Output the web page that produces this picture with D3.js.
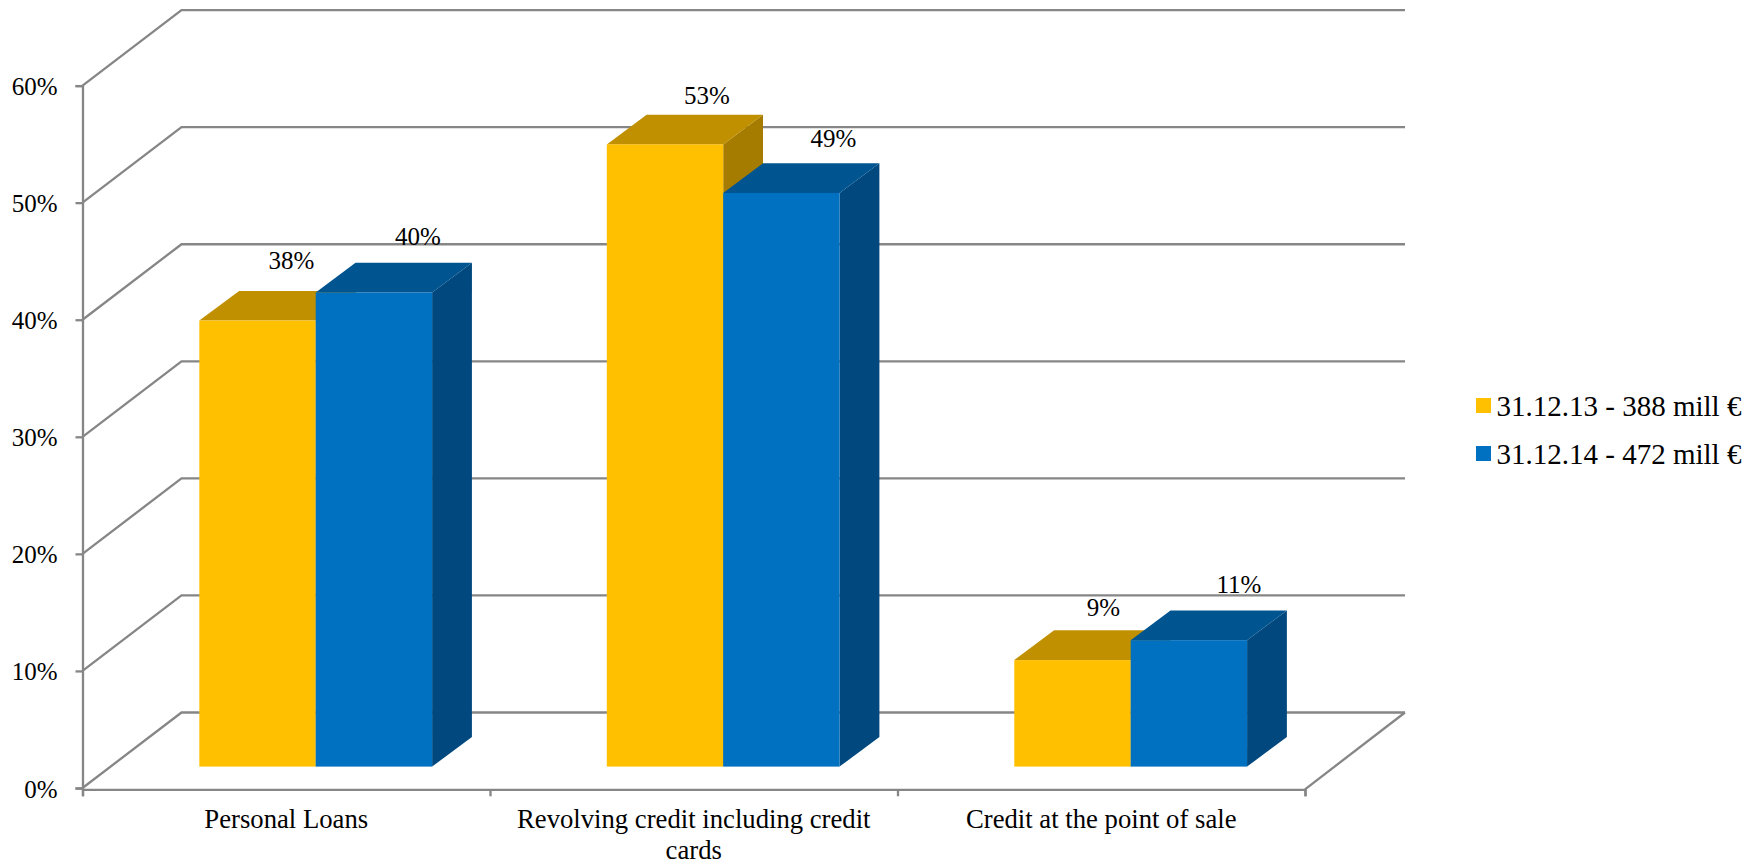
<!DOCTYPE html>
<html><head><meta charset="utf-8">
<script src="https://cdn.jsdelivr.net/npm/d3@7"></script>
<style>
html,body{margin:0;padding:0;background:#fff;overflow:hidden}
text{font-family:"Liberation Serif",serif;fill:#000}
</style></head><body>
<script>
const categories = ["Personal Loans", "Revolving credit including credit cards", "Credit at the point of sale"];
const categoryLines = [["Personal Loans"], ["Revolving credit including credit", "cards"], ["Credit at the point of sale"]];
const seriesNames = ["31.12.13 - 388 mill €", "31.12.14 - 472 mill €"];
const values2013 = [38.1, 53.15, 9.1];
const values2014 = [40.5, 49.0, 10.8];
const labels2013 = ["38%", "53%", "9%"];
const labels2014 = ["40%", "49%", "11%"];
const yTicks = [0, 10, 20, 30, 40, 50, 60];

const W = 1763, H = 864, FS = 25, CAT_FS = 26.7, LEG_FS = 29;
const axisColor = "#868686", LW = 2.3;
const front = ["#FFC000", "#0070C0"], topC = ["#C09000", "#005490"], sideC = ["#A67C00", "#00487D"];
// 3D projection constants
const wallDx = 99, wallDy = -75.5;     // front of floor to back wall
const barShift = 29.45, barOffY = -21.4; // band position to bar front plane
const barDx = 39.8, barDy = -29.7;     // depth of a bar
// hand-placed data-label nudges from the bar's front-top centre
const nudge2013 = [[34, -52], [42, -40], [31, -44]];
const nudge2014 = [[44, -47], [52, -46], [50, -47]];

const svg = d3.select("body").append("svg").attr("width", W).attr("height", H).style("display", "block");
const y = d3.scaleLinear().domain([0, 60]).range([788, 85.6]);
const xLeft = 82.5, xRight = 1305;
const x0 = d3.scaleBand().domain(categories).range([xLeft, xRight]).paddingInner(0.4287).paddingOuter(0.2144);
const x1 = d3.scaleBand().domain([0, 1]).range([0, x0.bandwidth()]);

// walls and floor grid
const grid = svg.append("g").attr("fill", "none").attr("stroke", axisColor).attr("stroke-width", LW);
grid.selectAll("path").data(yTicks).join("path")
  .attr("d", v => `M${xLeft},${y(v)}L${xLeft + wallDx},${y(v) + wallDy}L${xRight + wallDx + 1},${y(v) + wallDy}`);
grid.append("path").attr("d", `M${xRight + wallDx + 1},${y(0) + wallDy}L${xRight},${y(0) + 1.3}`);

// axes
const yAxis = d3.axisLeft(y).tickValues(yTicks).tickFormat(d => d + "%").tickSize(7).tickPadding(18);
const gy = svg.append("g").attr("transform", `translate(${xLeft},0)`).call(yAxis);
gy.selectAll("text").attr("font-size", FS).attr("dy", "0.36em");
const boundaries = d3.scalePoint().domain([0, 1, 2, 3]).range([xLeft, xRight]);
const xAxis = d3.axisBottom(boundaries).tickFormat("").tickSize(7);
const gx = svg.append("g").attr("transform", `translate(0,${y(0) + 1.3})`).call(xAxis);
[gy, gx].forEach(g => { g.selectAll("path,line").attr("stroke", axisColor).attr("stroke-width", LW); });

// bars
const series = [values2013, values2014];
const labels = [labels2013, labels2014];
const nudges = [nudge2013, nudge2014];
const baseY = y(0) + barOffY;
const barTop = v => baseY - (y(0) - y(v));
const poly = pts => "M" + pts.map(p => p.join(",")).join("L") + "Z";
categories.forEach((c, i) => {
  [0, 1].forEach(s => {
    const g = svg.append("g");
    const xa = x0(c) + x1(s) + barShift, w = x1.bandwidth();
    const t = barTop(series[s][i]);
    g.append("path").attr("fill", sideC[s]).attr("d", poly([[xa + w, t], [xa + w + barDx, t + barDy], [xa + w + barDx, baseY + barDy], [xa + w, baseY]]));
    g.append("path").attr("fill", topC[s]).attr("d", poly([[xa, t], [xa + barDx, t + barDy], [xa + w + barDx, t + barDy], [xa + w, t]]));
    g.append("rect").attr("fill", front[s]).attr("x", xa).attr("y", t).attr("width", w).attr("height", baseY - t);
  });
});
// data labels on top
categories.forEach((c, i) => {
  [0, 1].forEach(s => {
    const xa = x0(c) + x1(s) + barShift, w = x1.bandwidth();
    svg.append("text").attr("font-size", FS).attr("text-anchor", "middle")
      .attr("x", xa + w / 2 + nudges[s][i][0]).attr("y", barTop(series[s][i]) + nudges[s][i][1])
      .text(labels[s][i]);
  });
});

// category labels
categoryLines.forEach((lines, i) => {
  const cx = (boundaries(i) + boundaries(i + 1)) / 2;
  const tx = svg.append("text").attr("font-size", CAT_FS).attr("text-anchor", "middle");
  lines.forEach((l, k) => tx.append("tspan").attr("x", cx).attr("y", 828 + k * 30.5).text(l));
});

// legend
const legend = svg.append("g").selectAll("g").data(seriesNames).join("g")
  .attr("transform", (d, i) => `translate(1476,${398 + i * 48})`);
legend.append("rect").attr("width", 15).attr("height", 15).attr("fill", (d, i) => front[i]);
legend.append("text").attr("x", 20.5).attr("y", 18.2).attr("font-size", LEG_FS).text(d => d);
</script>
</body></html>
